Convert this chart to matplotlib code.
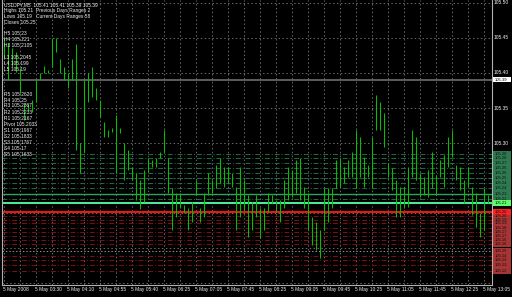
"""USDJPY M5 bar chart with pivot levels, MetaTrader style."""
import matplotlib
matplotlib.use("Agg")
import matplotlib.pyplot as plt
from matplotlib.patches import Rectangle

W, H = 512, 297
PX_PER_PRICE = 700.0

# bar highs / lows
HIGHS = [105.450, 105.443, 105.436, 105.430, 105.407, 105.357, 105.356, 105.361,
         105.390, 105.400, 105.410, 105.404, 105.450, 105.450, 105.420, 105.409,
         105.400, 105.420, 105.441, 105.300, 105.390, 105.400, 105.409, 105.379,
         105.361, 105.330, 105.319, 105.321, 105.340, 105.321, 105.300, 105.290,
         105.266, 105.257, 105.247, 105.261, 105.279, 105.276, 105.279, 105.287,
         105.319, 105.279, 105.236, 105.229, 105.229, 105.211, 105.207, 105.216,
         105.247, 105.207, 105.229, 105.257, 105.247, 105.269, 105.279, 105.266,
         105.266, 105.257, 105.237, 105.266, 105.247, 105.226, 105.216, 105.226,
         105.207, 105.207, 105.229, 105.226, 105.219, 105.219, 105.247, 105.266,
         105.261, 105.276, 105.279, 105.237, 105.229, 105.194, 105.187, 105.176,
         105.236, 105.236, 105.236, 105.276, 105.279, 105.266, 105.276, 105.287,
         105.319, 105.309, 105.280, 105.269, 105.309, 105.369, 105.359, 105.343,
         105.271, 105.264, 105.247, 105.237, 105.237, 105.266, 105.319, 105.309,
         105.257, 105.251, 105.261, 105.287, 105.254, 105.276, 105.283, 105.309,
         105.319, 105.269, 105.266, 105.247, 105.266, 105.237, 105.229, 105.200,
         105.236, 105.226, 105.236]
LOWS = [105.421, 105.390, 105.409, 105.401, 105.371, 105.333, 105.347, 105.344,
        105.359, 105.390, 105.400, 105.400, 105.409, 105.430, 105.400, 105.390,
        105.379, 105.390, 105.290, 105.257, 105.287, 105.359, 105.366, 105.361,
        105.337, 105.309, 105.309, 105.316, 105.257, 105.314, 105.247, 105.261,
        105.247, 105.219, 105.206, 105.216, 105.259, 105.266, 105.266, 105.279,
        105.286, 105.229, 105.176, 105.194, 105.207, 105.200, 105.176, 105.187,
        105.226, 105.187, 105.194, 105.226, 105.229, 105.236, 105.243, 105.237,
        105.243, 105.237, 105.176, 105.194, 105.204, 105.166, 105.176, 105.194,
        105.164, 105.176, 105.201, 105.214, 105.201, 105.187, 105.207, 105.219,
        105.223, 105.229, 105.219, 105.207, 105.176, 105.154, 105.147, 105.136,
        105.176, 105.187, 105.207, 105.236, 105.237, 105.243, 105.251, 105.251,
        105.236, 105.251, 105.237, 105.251, 105.236, 105.319, 105.319, 105.294,
        105.251, 105.233, 105.194, 105.194, 105.207, 105.209, 105.251, 105.247,
        105.223, 105.226, 105.223, 105.236, 105.226, 105.251, 105.237, 105.266,
        105.280, 105.247, 105.233, 105.214, 105.237, 105.197, 105.180, 105.166,
        105.176, 105.214, 105.209]

TIME_LABELS = ["5 May 2008", "5 May 03:30", "5 May 04:10", "5 May 04:55",
               "5 May 05:40", "5 May 06:25", "5 May 07:05", "5 May 07:45",
               "5 May 08:25", "5 May 09:05", "5 May 09:45", "5 May 10:25",
               "5 May 11:05", "5 May 11:45", "5 May 12:25", "5 May 13:05"]
PRICE_TICKS = [105.50, 105.45, 105.40, 105.35, 105.30]
GRID_PRICES = [105.50, 105.45, 105.40, 105.35, 105.30, 105.25, 105.20, 105.15, 105.10]
BID = 105.39

GREEN_DASHED = [105.284, 105.279, 105.271, 105.264, 105.257, 105.250,
                105.243, 105.236, 105.220]
GREEN_SOLID = 105.227
LIME_SOLID = 105.214
RED_SOLID = 105.201
RED_DASHED = [105.196, 105.190, 105.186, 105.179, 105.173, 105.167,
              105.161, 105.156, 105.139, 105.133, 105.126, 105.117]
PALE_DASHED = 105.146

INFO_LINES = ["USDJPY,M5  105.41 105.41 105.39 105.39",
              "Highs 105.21", "Lows 105.19", "Closes 105.25"]
INFO_RIGHT = ["Previous Days Ranges 2", "Current Days Ranges 58"]
H_LABELS = ["H5 105.23", "H4 105.221", "H3 105.2105"]
L_LABELS = ["L3 105.2045", "L4 105.199", "L5 105.19"]
PIVOT_LABELS = ["R5 105.2620", "R4 105.25", "R3 105.2367", "R2 105.2233",
                "R1 105.2167", "Pivot 105.2033", "S1 105.1967", "S2 105.1833",
                "S3 105.1767", "S4 105.17", "S5 105.1633"]

FS = 3.5
TXT = "#f0f0f0"

plt.rcParams["font.family"] = ["Liberation Sans", "DejaVu Sans"]

fig = plt.figure(figsize=(W / 100, H / 100), dpi=100, facecolor="black")
ax_left, ax_right, ax_top, ax_bot = 2, 492, 0, 285
ax = fig.add_axes([ax_left / W, 1 - ax_bot / H,
                   (ax_right - ax_left) / W, (ax_bot - ax_top) / H])
ax.set_facecolor("black")

y_top = 105.50 + 3 / PX_PER_PRICE
y_bot = 105.50 - (ax_bot - 3) / PX_PER_PRICE
ax.set_ylim(y_bot, y_top)
# bars every 4 px, centred on pixel centres
ax.set_xlim(-0.375, 122.125)

idx = list(range(len(HIGHS)))

# grid
for p in GRID_PRICES:
    ax.axhline(p, color="#6a6a6a", lw=0.7, ls=(0, (1.5, 2.5)), zorder=1)
for i in range(0, 123, 4):
    ax.axvline(i, color="#6a6a6a", lw=0.7, ls=(0, (1.5, 2.5)), zorder=1)

# level lines
for p in GREEN_DASHED:
    ax.axhline(p, color="#1f6b45", lw=0.7, ls=(0, (5, 2, 1, 2)), zorder=2)
for p in RED_DASHED:
    ax.axhline(p, color="#7a1212", lw=0.7, ls=(0, (5, 2, 1, 2)), zorder=2)
ax.axhline(PALE_DASHED, color="#9a8a8a", lw=0.7, ls=(0, (1.5, 2)), zorder=2)
ax.axhline(GREEN_SOLID, color="#2fa060", lw=1.0, zorder=2)
ax.axhline(LIME_SOLID, color="#4cf09a", lw=1.4, zorder=2)
ax.axhline(RED_SOLID, color="#ff1010", lw=1.4, zorder=2)
ax.axhline(BID, color="#6a6e74", lw=1.2, zorder=2)

# bars
ax.vlines(idx, LOWS, HIGHS, color="#00c000", lw=0.75, zorder=3)

ax.set_xticks([])
ax.set_yticks([])
for side in ("left", "right", "bottom"):
    ax.spines[side].set_color("#b0b0b0")
    ax.spines[side].set_linewidth(0.8)
ax.spines["top"].set_visible(False)


def fy(price):
    # figure fraction for a price
    return 1 - (3 + (105.50 - price) * PX_PER_PRICE) / H


# right price labels
for p in PRICE_TICKS:
    fig.text(494 / W, fy(p), f"{p:.2f}", color=TXT, fontsize=FS,
             va="center", ha="left")


def box(price, face, height=6):
    yc = 3 + (105.50 - price) * PX_PER_PRICE
    fig.patches.append(Rectangle((493 / W, 1 - (yc + height / 2) / H),
                                 18 / W, height / H, transform=fig.transFigure,
                                 facecolor=face, edgecolor="none", zorder=1))
    fig.text(494.5 / W, 1 - yc / H, f"{price:.2f}", color="#101010",
             fontsize=3.0, va="center", ha="left", zorder=2)


for p in GREEN_DASHED + [GREEN_SOLID]:
    box(p, "#2e7a50")
box(LIME_SOLID, "#5cff6a")
for p in RED_DASHED + [PALE_DASHED]:
    box(p, "#a83434")
box(RED_SOLID, "#ff2020")
box(BID, "white", height=5)

# time labels
for k, lab in enumerate(TIME_LABELS):
    xp = 3 + 32.0 * k
    fig.text(xp / W, 1 - 290 / H, lab, color=TXT, fontsize=FS,
             va="center", ha="left")

# info text
for k, lab in enumerate(INFO_LINES):
    fig.text(4 / W, 1 - (5 + 5.7 * k) / H, lab, color=TXT,
             fontsize=FS, va="center", ha="left")
for k, lab in enumerate(INFO_RIGHT):
    fig.text(36 / W, 1 - (10.7 + 5.7 * k) / H, lab, color=TXT,
             fontsize=FS, va="center", ha="left")
for k, lab in enumerate(H_LABELS):
    fig.text(4 / W, 1 - (33.5 + 6 * k) / H, lab, color=TXT,
             fontsize=FS, va="center", ha="left")
for k, lab in enumerate(L_LABELS):
    fig.text(4 / W, 1 - (57.5 + 6 * k) / H, lab, color=TXT,
             fontsize=FS, va="center", ha="left")
for k, lab in enumerate(PIVOT_LABELS):
    fig.text(4 / W, 1 - (94 + 6 * k) / H, lab, color=TXT,
             fontsize=FS, va="center", ha="left")

fig.savefig("out.png", dpi=100, facecolor="black")
